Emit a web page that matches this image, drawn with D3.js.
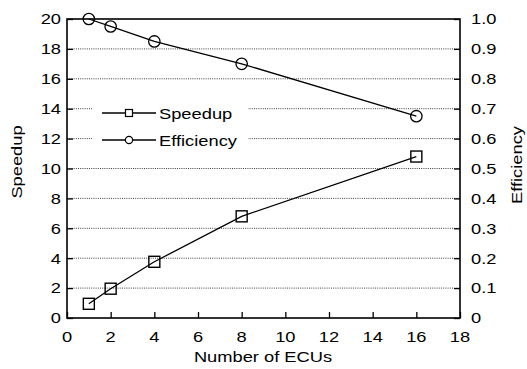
<!DOCTYPE html>
<html><head><meta charset="utf-8">
<script src="https://cdn.jsdelivr.net/npm/d3@7"></script>
<style>body{margin:0;background:#fff}</style>
</head><body>
<svg id="c" width="527" height="369"></svg>
<script>
const ecus = [1, 2, 4, 8, 16];
const speedup = [0.95, 1.96, 3.76, 6.8, 10.8];
const efficiency = [1.0, 0.975, 0.925, 0.85, 0.675];
const xTicks = [0, 2, 4, 6, 8, 10, 12, 14, 16, 18];
const yLTicks = [0, 2, 4, 6, 8, 10, 12, 14, 16, 18, 20];
const yRTicks = [0, 0.1, 0.2, 0.3, 0.4, 0.5, 0.6, 0.7, 0.8, 0.9, 1.0];
const seriesNames = ["Speedup", "Efficiency"];

const svg = d3.select("#c");
const L = 67, R = 460, T = 19, B = 318;
const x = d3.scaleLinear().domain([0, 18]).range([L, R]);
const yL = d3.scaleLinear().domain([0, 20]).range([B, T]);
const yR = d3.scaleLinear().domain([0, 1]).range([B, T]);
const fs = 15, sx = 1.22;
const FONT = '"Liberation Sans",Arial,Helvetica,sans-serif';

function txt(px, py, s, anchor, rot) {
  return svg.append("text")
    .attr("transform", `translate(${px},${py}) rotate(${rot || 0}) scale(${sx},1)`)
    .attr("text-anchor", anchor || "start")
    .attr("font-family", FONT).attr("font-size", fs).attr("fill", "#000")
    .text(s);
}

// grid
svg.append("g").selectAll("line").data(yLTicks.filter(d => d > 0 && d < 20)).join("line")
  .attr("x1", L).attr("x2", R).attr("y1", d => yL(d)).attr("y2", d => yL(d))
  .attr("stroke", "#000").attr("stroke-width", 1).attr("stroke-dasharray", "1,1.2").attr("opacity", 0.75);

// legend background
svg.append("rect").attr("x", 92).attr("y", 100).attr("width", 156).attr("height", 54).attr("fill", "#fff");

// axes via d3 (ticks only; labels drawn below)
const gx = svg.append("g").attr("transform", `translate(0,${B})`)
  .call(d3.axisBottom(x).tickValues(xTicks).tickSize(-6).tickFormat(""));
const gl = svg.append("g").attr("transform", `translate(${L},0)`)
  .call(d3.axisLeft(yL).tickValues(yLTicks).tickSize(-6).tickFormat(""));
const gr = svg.append("g").attr("transform", `translate(${R},0)`)
  .call(d3.axisRight(yR).tickValues(yRTicks).tickSize(-6).tickFormat(""));
[gx, gl, gr].forEach(g => {
  g.select(".domain").remove();
  g.selectAll("line").attr("stroke", "#000").attr("stroke-width", 1.3);
  g.selectAll("text").remove();
});
// border
svg.append("rect").attr("x", L).attr("y", T).attr("width", R - L).attr("height", B - T)
  .attr("fill", "none").attr("stroke", "#000").attr("stroke-width", 1.6);

// tick labels
xTicks.forEach(d => txt(x(d), 342, d3.format("d")(d), "middle"));
yLTicks.forEach(d => txt(61, yL(d) + 5.3, d3.format("d")(d), "end"));
yRTicks.forEach(d => txt(471, yR(d) + 5.3, d === 0 ? "0" : d3.format(".1f")(d), "start"));

// lines
const lineS = d3.line().x((d, i) => x(ecus[i])).y(d => yL(d));
const lineE = d3.line().x((d, i) => x(ecus[i])).y(d => yR(d));
svg.append("path").attr("d", lineS(speedup)).attr("fill", "none").attr("stroke", "#000").attr("stroke-width", 1.3);
svg.append("path").attr("d", lineE(efficiency)).attr("fill", "none").attr("stroke", "#000").attr("stroke-width", 1.3);

const sq = 11, cr = 5.7;
svg.append("g").selectAll("rect").data(speedup).join("rect")
  .attr("x", (d, i) => x(ecus[i]) - sq / 2).attr("y", d => yL(d) - sq / 2)
  .attr("width", sq).attr("height", sq).attr("fill", "none").attr("stroke", "#000").attr("stroke-width", 1.4);
svg.append("g").selectAll("circle").data(efficiency).join("circle")
  .attr("cx", (d, i) => x(ecus[i])).attr("cy", d => yR(d)).attr("r", cr)
  .attr("fill", "none").attr("stroke", "#000").attr("stroke-width", 1.3);

// legend
seriesNames.forEach((name, i) => {
  const yy = 113 + i * 27;
  svg.append("line").attr("x1", 102).attr("x2", 156).attr("y1", yy).attr("y2", yy).attr("stroke", "#000").attr("stroke-width", 1.3);
  if (i === 0) svg.append("rect").attr("x", 129 - 3.5).attr("y", yy - 3.5).attr("width", 7).attr("height", 7).attr("fill", "#fff").attr("stroke", "#000").attr("stroke-width", 1.2);
  else svg.append("circle").attr("cx", 129).attr("cy", yy).attr("r", 3.6).attr("fill", "#fff").attr("stroke", "#000").attr("stroke-width", 1.2);
  txt(159, yy + 5.5, name, "start");
});

// axis titles
txt(22, 162, "Speedup", "middle", -90);
txt(522, 165, "Efficiency", "middle", -90);
txt(263, 362, "Number of ECUs", "middle");
</script>
</body></html>
